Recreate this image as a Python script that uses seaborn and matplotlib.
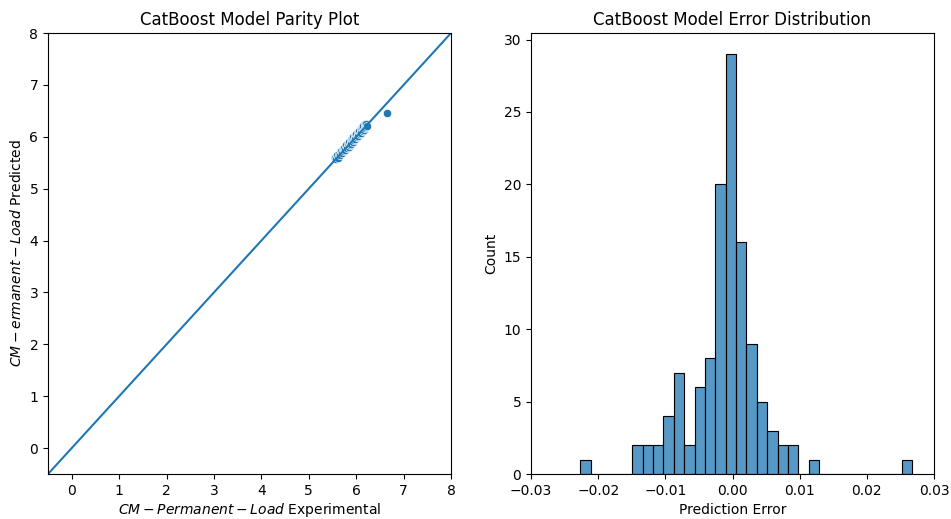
import numpy as np
import matplotlib
matplotlib.use('Agg')
import matplotlib.pyplot as plt
import seaborn as sns
import pandas as pd

# Данные для диаграммы соответствия (эксперимент vs предсказание)
y_exp = [5.56, 5.58, 5.60, 5.62, 5.63, 5.66, 5.68, 5.70, 5.72, 5.74, 5.75, 5.77,
         5.79, 5.80, 5.82, 5.84, 5.85, 5.87, 5.88, 5.90, 5.91, 5.93, 5.94, 5.95,
         5.97, 5.98, 6.00, 6.01, 6.03, 6.04, 6.06, 6.08, 6.10, 6.11, 6.13, 6.14,
         6.15, 6.17, 6.18, 6.19, 6.20, 6.21, 6.22, 6.65]
y_pred = [5.60, 5.57, 5.65, 5.60, 5.67, 5.64, 5.73, 5.69, 5.77, 5.72, 5.79, 5.74,
          5.84, 5.78, 5.86, 5.81, 5.90, 5.84, 5.93, 5.87, 5.96, 5.90, 5.99, 5.93,
          6.03, 5.96, 6.06, 5.99, 6.08, 6.02, 6.11, 6.05, 6.15, 6.08, 6.18, 6.11,
          6.21, 6.14, 6.24, 6.16, 6.19, 6.25, 6.20, 6.45]

# Гистограмма ошибок: диапазон и количество в каждом из 32 бинов
err_min, err_max = -0.02265, 0.02677
err_counts = [1, 0, 0, 0, 0, 2, 2, 2, 4, 7, 2, 6, 8, 20, 29, 16,
              9, 5, 3, 2, 2, 0, 1, 0, 0, 0, 0, 0, 0, 0, 0, 1]

edges = np.linspace(err_min, err_max, len(err_counts) + 1)
df_err = pd.DataFrame({'err': (edges[:-1] + edges[1:]) / 2, 'n': err_counts})

fig = plt.figure(figsize=(9.51, 5.19), dpi=100)
ax1 = fig.add_axes([0.0505, 0.0867, 0.4238, 0.8497])
ax2 = fig.add_axes([0.5584, 0.0867, 0.4238, 0.8497])

# Диаграмма соответствия
sns.scatterplot(x=y_exp, y=y_pred, ax=ax1)
ax1.axline((0, 0), slope=1)
ax1.set_xlim(-0.5, 8)
ax1.set_ylim(-0.5, 8)
ax1.set_title('CatBoost Model Parity Plot')
ax1.set_xlabel('$CM-Permanent-Load$ Experimental', labelpad=2)
ax1.set_ylabel('$CM-ermanent-Load$ Predicted')

# Распределение ошибок
sns.histplot(data=df_err, x='err', weights='n', bins=len(err_counts),
             binrange=(err_min, err_max), ax=ax2)
ax2.set_xlim(-0.03, 0.03)
ax2.set_title('CatBoost Model Error Distribution')
ax2.set_xlabel('Prediction Error')
ax2.set_ylabel('Count')

plt.savefig('out.png', dpi=100)
